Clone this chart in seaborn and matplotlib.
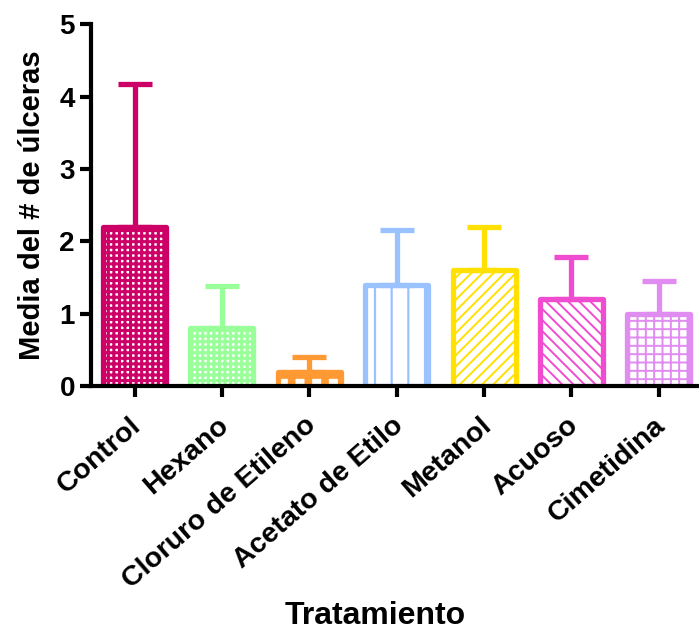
import matplotlib
matplotlib.use("Agg")
import matplotlib.pyplot as plt
import matplotlib.transforms as mtransforms
import pandas as pd
import seaborn as sns

tratamientos = ["Control", "Hexano", "Cloruro de Etileno", "Acetato de Etilo",
                "Metanol", "Acuoso", "Cimetidina"]
medias = [2.2, 0.8, 0.2, 1.4, 1.6, 1.2, 1.0]
errores = [1.97, 0.58, 0.2, 0.75, 0.6, 0.58, 0.45]
colores = ["#CC0066", "#99FF99", "#FF9933", "#99C2FF", "#FFE000", "#F04CD0", "#E08CF0"]
tramas = ["+++", "+++", "+", "|", "///", "\\\\\\", "++"]
grosor_trama = [2.2, 2.2, 5.5, 1.6, 1.4, 1.4, 1.4]

df = pd.DataFrame({"Tratamiento": tratamientos, "Media": medias})

sns.set_style("ticks")
plt.rcParams["font.family"] = ["Liberation Sans", "DejaVu Sans"]
plt.rcParams["font.weight"] = "bold"
for k in ["text.color", "axes.labelcolor", "xtick.color", "ytick.color", "axes.edgecolor"]:
    plt.rcParams[k] = "black"

fig = plt.figure(figsize=(6.99, 6.37), dpi=100)
ax = fig.add_axes([0.130, 0.394, 0.87, 0.568])

sns.barplot(data=df, x="Tratamiento", y="Media", hue="Tratamiento",
            palette=colores, width=0.72, legend=False, ax=ax)

for patch, col, h, lw in zip(ax.patches, colores, tramas, grosor_trama):
    plt.rcParams["hatch.linewidth"] = lw
    patch.set_facecolor("white")
    patch.set_edgecolor(col)
    patch.set_linewidth(3.8)
    patch.set_hatch(h)
    patch.set_joinstyle("round")
    if hasattr(patch, "set_hatch_linewidth"):
        patch.set_hatch_linewidth(lw)

for i, (m, e, col) in enumerate(zip(medias, errores, colores)):
    ax.errorbar(i, m, yerr=[[0], [e]], color=col, elinewidth=3.8,
                capsize=12, capthick=3.8, zorder=1)

ax.set_ylim(0, 5)
ax.set_xlim(-0.5, 6.46)
ax.set_yticks([0, 1, 2, 3, 4, 5])
sns.despine(ax=ax)
for sp in ["left", "bottom"]:
    ax.spines[sp].set_linewidth(3)
ax.tick_params(axis="both", width=3, length=8, direction="out")
ax.tick_params(axis="x", labelsize=20.5, pad=11)
ax.tick_params(axis="y", labelsize=20)
offset = mtransforms.ScaledTranslation(-0.05, 0, fig.dpi_scale_trans)
for lab in ax.get_xticklabels():
    lab.set_rotation(41)
    lab.set_ha("right")
    lab.set_rotation_mode("anchor")
    lab.set_fontweight("bold")
    lab.set_transform(lab.get_transform() + offset)
plt.setp(ax.get_yticklabels(), fontweight="bold")
ax.set_ylabel("Media del # de úlceras", fontsize=21, fontweight="bold")
ax.set_xlabel("Tratamiento", fontsize=23, fontweight="bold")
ax.yaxis.set_label_coords(-0.074, 0.5)
ax.xaxis.set_label_coords(0.467, -0.594)

fig.savefig("out.png", dpi=100)
